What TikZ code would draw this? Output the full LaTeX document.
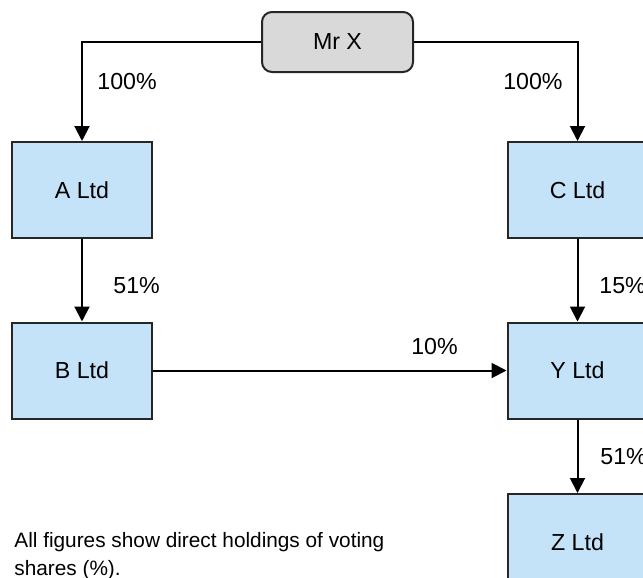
\documentclass[tikz,border=0pt]{standalone}
\usepackage{fontspec}
\setmainfont{Liberation Sans}
\usetikzlibrary{arrows.meta}
\definecolor{ltdblue}{HTML}{C5E3F8}
\definecolor{ownergrey}{HTML}{D9D9D9}
\begin{document}
\begin{tikzpicture}[x=0.5pt,y=-0.5pt,
  ltd/.style={draw=black!85, line width=1pt, fill=ltdblue, minimum width=70pt,
    minimum height=48pt, inner sep=0pt, font=\fontsize{11.6}{14}\selectfont},
  owner/.style={ltd, fill=ownergrey, rounded corners=5pt, minimum width=75.5pt,
    minimum height=30pt},
  pct/.style={inner sep=0pt, font=\fontsize{11.6}{14}\selectfont},
  holds/.style={line width=1pt, -{Triangle[width=7.5pt,length=7.5pt]}}]
\clip (0,0) rectangle (643,578);
\node[owner] (mrx) at (337.5,42) {Mr X};
\node[ltd] (altd) at (82,190) {A Ltd};
\node[ltd] (bltd) at (82,370.5) {B Ltd};
\node[ltd] (cltd) at (577.5,190) {C Ltd};
\node[ltd] (yltd) at (577.5,370.5) {Y Ltd};
\node[ltd] (zltd) at (577.5,542) {Z Ltd};
\draw[holds] (mrx.west) -| (altd.north);
\draw[holds] (mrx.east) -| (cltd.north);
\draw[holds] (altd) -- (bltd);
\draw[holds] (cltd) -- (yltd);
\draw[holds] (yltd) -- (zltd);
\draw[holds] (bltd) -- (yltd);
\node[pct, right] (pa) at (97,82) {100\%};
\node[pct, left] (pc) at (563,82) {100\%};
\node[pct, right] (pb) at (113,286) {51\%};
\node[pct, right] (py) at (599,286) {15\%};
\node[pct, right] (pz) at (600,457) {51\%};
\node[pct] (pby) at (434.5,347) {10\%};
% base is the last line here
\node[inner sep=0pt, anchor=base west, align=left,
  font=\fontsize{10.4}{14}\selectfont] (note) at (14,575)
  {All figures show direct holdings of voting\\shares (\%).};
\end{tikzpicture}
\end{document}
